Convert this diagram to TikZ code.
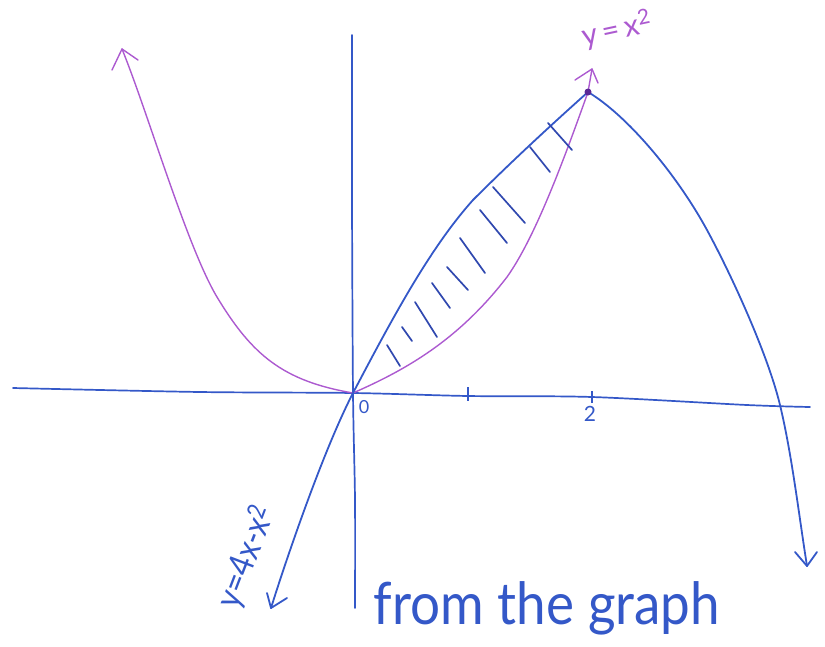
\documentclass[tikz,border=0pt]{standalone}
\usepackage{fontspec}
\setmainfont{Lato}
\usetikzlibrary{calc}
\definecolor{penblue}{RGB}{52,88,200}
\definecolor{penpurple}{RGB}{172,90,208}
\definecolor{hatchblue}{RGB}{48,72,175}
\definecolor{dotpurple}{RGB}{90,40,150}
\tikzset{
  axisline/.style={penblue, line width=1.7pt, line cap=round},
  bluecurve/.style={penblue, line width=1.8pt, line cap=round, line join=round},
  purplecurve/.style={penpurple, line width=1.4pt, line cap=round, line join=round},
  hatchstroke/.style={hatchblue, line width=1.7pt, line cap=round},
  tickmark/.style={penblue, line width=1.4pt},
  handtext/.style={inner sep=0pt},
}
\begin{document}
\begin{tikzpicture}[x=1pt,y=-1pt]
\useasboundingbox (0,0) rectangle (825,646);
% key points
\coordinate (O) at (353,393);
\coordinate (V) at (588,92);
\coordinate (xl) at (13,388);
\coordinate (xr) at (810,407);
\coordinate (yt) at (352,35);
\coordinate (yb) at (355,608);
\coordinate (tipPL) at (122,49);
\coordinate (tipPV) at (592,69);
\coordinate (tipBL) at (271,608);
\coordinate (tipBR) at (807,566);
\coordinate (Q) at (217,297);
\coordinate (P) at (507,277);
\coordinate (R) at (473,200);
\coordinate (S) at (707,230);
\coordinate (T) at (780,405);
% axes
\draw[axisline] plot[smooth, tension=0.5] coordinates {(xl) (200,392) (O) (468,396) (592,397) (747,405) (xr)};
\draw[axisline] plot[smooth, tension=0.5] coordinates {(yt) (352,200) (O) (355,500) (yb)};
% ticks
\coordinate (t1a) at (468,387); \coordinate (t1b) at (468,401);
\coordinate (t2a) at (592,391); \coordinate (t2b) at (592,403);
\draw[tickmark] (t1a) -- (t1b);
\draw[tickmark] (t2a) -- (t2b);
\node[handtext, penblue, font=\fontsize{18}{18}\selectfont] (l0) at (364,407) {0};
\node[handtext, penblue, font=\fontsize{21}{21}\selectfont] (l2) at (590,414) {2};
% y = x^2
\draw[purplecurve] (tipPL) .. controls (147,110) and (187,247) .. (Q)
  .. controls (252,355) and (283,381) .. (O)
  .. controls (403,371) and (457,342) .. (P)
  .. controls (534,239) and (561,168) .. (V) -- (tipPV);
\draw[purplecurve] ($(tipPL)+(-10,21)$) -- (tipPL) -- ++(16,11);
\draw[purplecurve] ($(tipPV)+(-17,11)$) -- (tipPV) -- ++(6,14);
% y = 4x - x^2
\draw[bluecurve] (tipBL) .. controls (286,560) and (323,451) .. (O)
  .. controls (393,317) and (430,248) .. (R)
  .. controls (511,162) and (550,126) .. (V)
  .. controls (628,116) and (677,175) .. (S)
  .. controls (732,276) and (768,355) .. (T)
  .. controls (792,455) and (799,516) .. (tipBR);
\draw[bluecurve] ($(tipBL)+(-4,-15)$) -- (tipBL) -- ++(16,-10);
\draw[bluecurve] ($(tipBR)+(-12,-14)$) -- (tipBR) -- ++(10,-14);
% vertex dot
\fill[dotpurple] (V) circle (3.5);
% hatching
\foreach \a/\b in {{(387,345)}/{(400,366)}, {(402,327)}/{(412,341)}, {(415,302)}/{(437,337)},
  {(432,283)}/{(450,308)}, {(447,267)}/{(468,290)}, {(460,238)}/{(485,273)},
  {(480,210)}/{(507,243)}, {(493,187)}/{(525,223)}, {(530,147)}/{(550,172)},
  {(548,123)}/{(572,150)}}
  \draw[hatchstroke] \a -- \b;
% labels
\node[handtext, penpurple, rotate=12, font=\fontsize{30}{30}\selectfont] (lp) at (617,30) {y\,=\,x\textsuperscript{2}};
\node[handtext, penblue, rotate=69, font=\fontsize{35}{35}\selectfont] (lb) at (247,557) {\scalebox{0.88}[1]{y=4x-x\textsuperscript{2}}};
\node[handtext, penblue, anchor=base, font=\fontsize{53}{53}\selectfont] (note) at (547,624) {\scalebox{1}[1.1]{from the graph}};
\end{tikzpicture}
\end{document}
